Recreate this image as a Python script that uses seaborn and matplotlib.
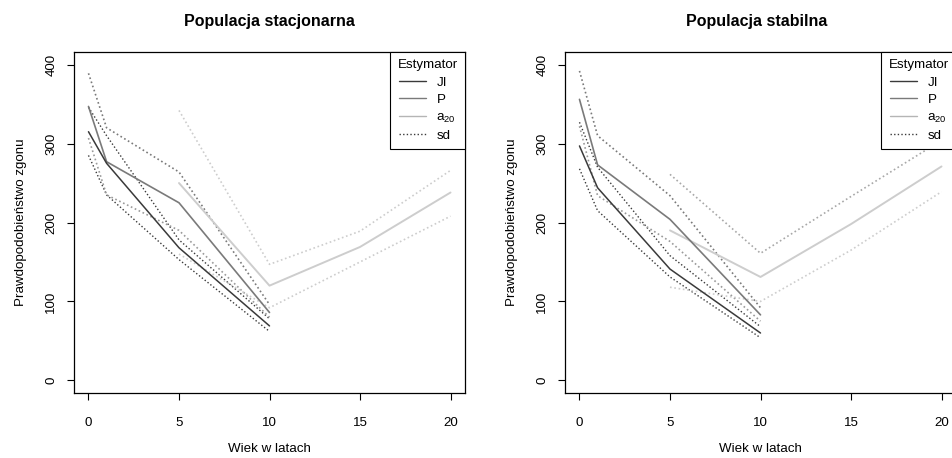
import matplotlib
matplotlib.use("Agg")
import matplotlib.pyplot as plt
from matplotlib.lines import Line2D
import seaborn as sns
import pandas as pd

# ---------------- data ----------------
wiek = [0, 1, 5, 10]
wiek_a20 = [5, 10, 15, 20]

# Populacja stacjonarna
st_JI = [315, 275, 168, 69]
st_JI_hi = [346, 310, 178, 78]
st_JI_lo = [285, 235, 153, 62]
st_P = [347, 277, 225, 86]
st_P_hi = [389, 320, 264, 96]
st_P_lo = [307, 235, 190, 80]
st_a20 = [250, 120, 169, 238]
st_a20_hi = [342, 147, 189, 266]
st_a20_lo = [160, 92, 150, 208]

# Populacja stabilna
sb_JI = [297, 244, 141, 60]
sb_JI_hi = [327, 270, 158, 68]
sb_JI_lo = [268, 215, 131, 54]
sb_P = [356, 273, 204, 83]
sb_P_hi = [392, 310, 234, 92]
sb_P_lo = [322, 234, 176, 75]
sb_a20 = [190, 131, 198, 271]
sb_a20_hi = [261, 161, 233, 304]
sb_a20_lo = [118, 100, 165, 239]

titles = ["Populacja stacjonarna", "Populacja stabilna"]
legend_labels = ["JI", "P", "a$_{20}$", "sd"]
xticks = [0, 5, 10, 15, 20]
yticks = [0, 100, 200, 300, 400]

# ---------------- style ----------------
sns.set_style("ticks")
plt.rcParams["font.family"] = ["Liberation Sans", "DejaVu Sans"]
plt.rcParams["mathtext.fontset"] = "custom"
plt.rcParams["mathtext.rm"] = "Liberation Sans"
plt.rcParams["mathtext.it"] = "Liberation Sans"
plt.rcParams["text.color"] = "black"
plt.rcParams["axes.labelcolor"] = "black"
plt.rcParams["xtick.color"] = "black"
plt.rcParams["ytick.color"] = "black"
plt.rcParams["axes.titlecolor"] = "black"

C_JI = "#3a3a3a"
C_P = "#7a7a7a"
C_A = "#cdcdcd"
DOT = (0, (1, 1.6))

fig = plt.figure(figsize=(9.52, 4.58), dpi=100)
W = 391 / 952
H = (393 - 52) / 458
B = (458 - 393) / 458
ax1 = fig.add_axes([74 / 952, B, W, H])
ax2 = fig.add_axes([565 / 952, B, W, H])

panels = [
    (ax1, st_JI, st_JI_hi, st_JI_lo, st_P, st_P_hi, st_P_lo, st_a20, st_a20_hi, st_a20_lo, C_A),
    (ax2, sb_JI, sb_JI_hi, sb_JI_lo, sb_P, sb_P_hi, sb_P_lo, sb_a20, sb_a20_hi, sb_a20_lo, "#a8a8a8"),
]

for i, (ax, JI, JIh, JIl, P, Ph, Pl, A, Ah, Al, cAh) in enumerate(panels):
    series = [
        (wiek, JIh, C_JI, DOT, 1.0),
        (wiek, JIl, C_JI, DOT, 1.0),
        (wiek, Ph, C_P, DOT, 1.2),
        (wiek, Pl, "#9a9a9a", DOT, 1.2),
        (wiek_a20, Ah, cAh, DOT, 1.2),
        (wiek_a20, Al, C_A, DOT, 1.2),
        (wiek_a20, A, C_A, "-", 1.4),
        (wiek, P, C_P, "-", 1.2),
        (wiek, JI, C_JI, "-", 1.1),
    ]
    for xs, ys, c, ls, lw in series:
        df = pd.DataFrame({"wiek": xs, "q": ys})
        sns.lineplot(data=df, x="wiek", y="q", ax=ax, color=c, linestyle=ls,
                     linewidth=lw, legend=False, errorbar=None)

    ax.set_xlim(-0.8, 20.8)
    ax.set_ylim(-16, 416)
    ax.set_xticks(xticks)
    ax.set_yticks(yticks)
    ax.set_xticklabels([str(t) for t in xticks], fontsize=9.6)
    ax.set_yticklabels([str(t) for t in yticks], fontsize=9.6, rotation=90, va="center")
    ax.tick_params(axis="both", direction="out", length=5, width=0.8, color="black")
    ax.tick_params(axis="x", pad=12)
    ax.tick_params(axis="y", pad=7)
    for s in ax.spines.values():
        s.set_visible(True)
        s.set_color("black")
        s.set_linewidth(0.9)
    ax.set_xlabel("Wiek w latach", fontsize=9.6, labelpad=10)
    ax.set_ylabel("Prawdopodobieństwo zgonu", fontsize=9.6, labelpad=13)
    ax.set_title(titles[i], fontsize=11.5, fontweight="bold", pad=19)
    if i == 1:
        ax.title.set_x((757 - 565) / 391)

    handles = [
        Line2D([], [], color=C_JI, lw=1.0),
        Line2D([], [], color=C_P, lw=1.0),
        Line2D([], [], color="#b5b5b5", lw=1.0),
        Line2D([], [], color=C_JI, lw=1.0, linestyle=DOT),
    ]
    leg = ax.legend(handles, legend_labels, title="Estymator", loc="upper right",
                    borderaxespad=0, fancybox=False, framealpha=1, edgecolor="black",
                    fontsize=9.6, title_fontsize=9.6, handlelength=2.0,
                    handletextpad=0.8, labelspacing=0.38, borderpad=0.55)
    leg.get_frame().set_linewidth(0.8)

fig.savefig("out.png", dpi=100)
